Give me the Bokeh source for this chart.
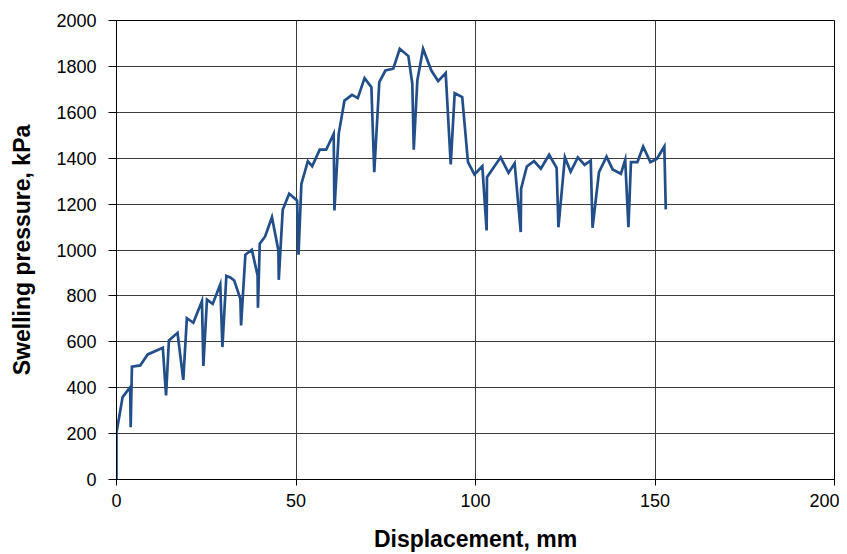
from bokeh.plotting import figure
from bokeh.models import Range1d, FixedTicker, ColumnDataSource
from bokeh.embed import file_html
from bokeh.resources import INLINE

# Displacement (mm) and swelling pressure (kPa)
displacement = [0, 0, 1.7, 3.8, 3.95, 4.3, 6.6, 8.7, 12.9, 13.8, 14.6, 17.0, 18.6,
                19.6, 21.4, 23.8, 24.2, 25.2, 26.8, 28.9, 29.5, 30.6, 31.7, 32.8,
                34.5, 34.7, 35.9, 37.7, 39.3, 39.4, 39.9, 41.4, 43.3, 45.1, 45.2,
                46.3, 48.1, 50.3, 50.7, 51.5, 53.3, 54.5, 56.6, 58.4, 60.5, 60.7,
                61.9, 63.5, 65.6, 67.2, 69.1, 71.0, 71.4, 71.8, 73.2, 74.9, 77.1,
                78.9, 81.3, 82.4, 82.8, 83.8, 85.4, 87.7, 89.6, 91.7, 93.1, 94.2,
                96.3, 97.9, 99.7, 101.9, 103.1, 103.2, 107.0, 109.2, 110.9, 112.6,
                112.7, 114.3, 116.3, 118.2, 120.5, 122.6, 123.1, 124.9, 126.5,
                128.5, 130.4, 132.1, 132.6, 134.4, 136.5, 138.2, 140.5, 141.7,
                142.6, 143.3, 145.1, 146.7, 148.7, 150.5, 152.6, 153.0]
pressure = [0, 205, 359, 402, 228, 492, 497, 545, 574, 366, 606, 639, 434,
            703, 683, 777, 495, 784, 765, 850, 577, 887, 880, 867,
            787, 671, 980, 1001, 889, 748, 1027, 1059, 1143, 998, 870,
            1175, 1245, 1216, 980, 1288, 1387, 1365, 1437, 1437, 1506, 1172,
            1506, 1651, 1676, 1662, 1749, 1709, 1521, 1339, 1731, 1782, 1790,
            1877, 1845, 1724, 1437, 1739, 1877, 1782, 1736, 1771, 1373, 1683,
            1666, 1383, 1329, 1365, 1085, 1317, 1404, 1336, 1378, 1078,
            1267, 1364, 1387, 1354, 1415, 1358, 1099, 1404, 1341,
            1404, 1371, 1390, 1097, 1339, 1407, 1351, 1332, 1393,
            1099, 1383, 1383, 1451, 1383, 1397, 1451, 1177]

x_ticks = [0, 50, 100, 150, 200]
y_ticks = [0, 200, 400, 600, 800, 1000, 1200, 1400, 1600, 1800, 2000]

p = figure(width=839, height=554, output_backend="svg", toolbar_location=None,
           x_range=Range1d(0, 200), y_range=Range1d(0, 2000),
           min_border_left=116, min_border_top=20, min_border_right=5,
           min_border_bottom=75)

src = ColumnDataSource(dict(x=displacement, y=pressure))
p.line("x", "y", source=src, line_color="#224e8a", line_width=2.7,
       line_join="miter")

p.outline_line_color = "black"
p.outline_line_width = 1
p.background_fill_color = "white"
p.border_fill_color = "white"

for g in (p.xgrid, p.ygrid):
    g.grid_line_color = "#3c3c3c"
    g.grid_line_width = 1

p.xaxis.ticker = FixedTicker(ticks=x_ticks)
p.yaxis.ticker = FixedTicker(ticks=y_ticks)
p.xgrid.ticker = FixedTicker(ticks=x_ticks)
p.ygrid.ticker = FixedTicker(ticks=y_ticks)

for ax in (p.xaxis, p.yaxis):
    ax.axis_line_color = "black"
    ax.major_tick_line_color = "black"
    ax.major_tick_in = 0
    ax.minor_tick_line_color = None
    ax.major_label_text_font = "Liberation Sans"
    ax.major_label_text_font_size = "18px"
    ax.major_label_text_color = "black"
    ax.axis_label_text_font = "Liberation Sans"
    ax.axis_label_text_font_style = "bold"
    ax.axis_label_text_font_size = "23px"
    ax.axis_label_text_color = "black"

p.xaxis.major_tick_out = 6
p.yaxis.major_tick_out = 8
p.xaxis.axis_label = "Displacement, mm"
p.yaxis.axis_label = "Swelling pressure, kPa"
p.xaxis.major_label_standoff = 8
p.yaxis.major_label_standoff = 12
p.xaxis.axis_label_standoff = 16
p.yaxis.axis_label_standoff = 18

open("out.html", "w").write(file_html(p, INLINE))
